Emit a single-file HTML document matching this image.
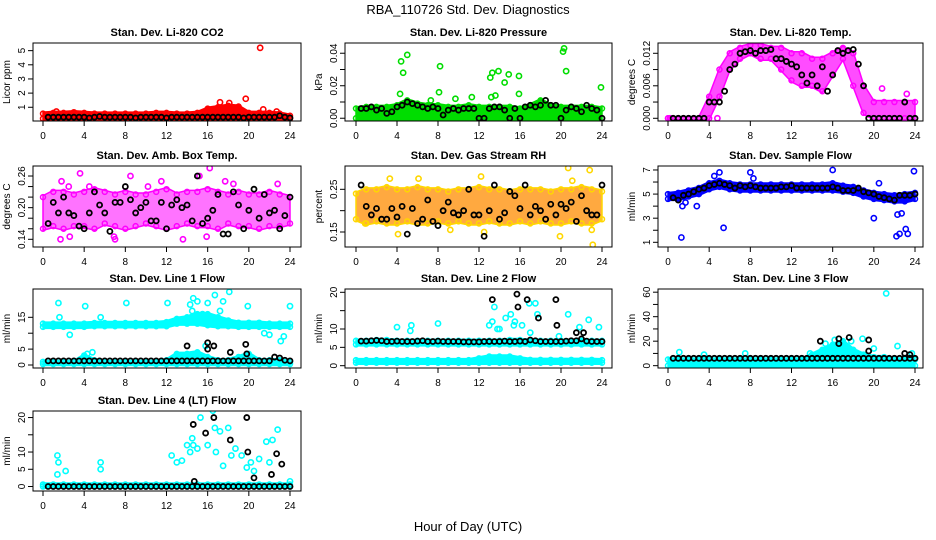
<!DOCTYPE html>
<html><head><meta charset="utf-8"><style>
html,body{margin:0;padding:0;background:#fff}
svg{display:block;font-family:"Liberation Sans",sans-serif}
</style></head><body>
<svg id="chart" width="936" height="540" viewBox="0 0 936 540">
<text x="468" y="14" text-anchor="middle" font-size="13">RBA_110726  Std. Dev. Diagnostics</text>
<text x="468" y="531" text-anchor="middle" font-size="13">Hour of Day (UTC)</text>
</svg>
<script>
// ---- data ----
const xTicks = [0,4,8,12,16,20,24];
const co2Lo = [0.2,0.2,0.2,0.2,0.2,0.2,0.2,0.2,0.2,0.2,0.2,0.2,0.2,0.2,0.2,0.2,0.2,0.2,0.2,0.2,0.2,0.2,0.2,0.2,0.2];
const co2Hi = [0.55,0.6,0.6,0.65,0.6,0.55,0.55,0.55,0.55,0.55,0.55,0.6,0.6,0.55,0.55,0.6,0.9,1.0,1.1,1.05,0.6,0.6,0.6,0.55,0.4];
const co2Black = [0.3,0.3,0.3,0.3,0.3,0.3,0.3,0.3,0.25,0.3,0.35,0.3,0.3,0.3,0.3,0.3,0.3,0.25,0.3,0.3,0.3,0.3,0.3,0.25,0.3,0.3,0.3,0.3,0.3,0.3,0.3,0.3,0.3,0.3,0.3,0.3,0.3,0.3,0.25,0.3,0.3,0.3,0.3,0.3,0.3,0.4,0.3,0.25];
const co2OutT = [21.1,19.7,17.2,18.1,21.4,1.3,22.7];
const co2OutV = [5.2,1.6,1.35,1.3,0.85,0.7,0.7];
const co2Ticks = [1,2,3,4,5];

const presLo = [0,0,0,0,0,0,0,0,0,0,0,0,0,0,0,0,0,0,0,0,0,0,0,0,0];
const presHi = [0.006,0.007,0.007,0.007,0.008,0.011,0.009,0.008,0.008,0.007,0.007,0.008,0.007,0.007,0.007,0.007,0.006,0.008,0.011,0.008,0.007,0.007,0.007,0.007,0.006];
const presBlack = [0.006,0.006,0.007,0.005,0.006,0.003,0.004,0.007,0.008,0.01,0.009,0.008,0.007,0.006,0.007,0.006,0.002,0.005,0.006,0.005,0.006,0.006,0.006,0,0,0.006,0.007,0.007,0.005,0,0.006,0,0.007,0.008,0.007,0.008,0.011,0.008,0.008,0,0.005,0.007,0.006,0.004,0.008,0.006,0.005,0];
const presOutT = [4.4,4.6,5.0,4.3,8.2,8.1,7.3,9.7,11.3,13.1,13.3,13.6,13.9,14.5,14.9,15.9,15.9,13.2,20.2,20.3,20.5,23.9];
const presOutV = [0.035,0.028,0.039,0.015,0.032,0.016,0.011,0.012,0.013,0.025,0.028,0.014,0.029,0.022,0.027,0.026,0.015,0.013,0.041,0.043,0.029,0.019];
const presTicks = [0,0.02,0.04];
const presMinor = [0.01,0.03];

const tempLo = [0,0,0,0,0,0.004,0.009,0.011,0.012,0.011,0.011,0.009,0.007,0.006,0.006,0.005,0.008,0.011,0.006,0.001,0,0,0,0,0];
const tempHi = [0,0,0,0,0.004,0.009,0.012,0.013,0.0135,0.0135,0.013,0.013,0.012,0.012,0.011,0.011,0.012,0.013,0.012,0.006,0.003,0.003,0.003,0.003,0.003];
const tempBlack = [0,0,0,0,0,0,0,0.003,0.003,0.003,0.005,0.009,0.01,0.012,0.0123,0.0125,0.012,0.0125,0.0125,0.0127,0.011,0.011,0.0105,0.01,0.0095,0.008,0.0065,0.008,0.006,0.0095,0.005,0.008,0.0125,0.012,0.0125,0.0127,0.01,0.006,0,0,0,0,0,0,0,0.003,0,0];
const tempOutT = [20.8,23.2,0.2,4.8];
const tempOutV = [0.0055,0.0045,0,0];
const tempTicks = [0,0.006,0.012];
const tempMinor = [0.003,0.009];

const ambLo = [0.16,0.165,0.16,0.165,0.165,0.16,0.17,0.165,0.16,0.165,0.17,0.165,0.16,0.165,0.17,0.165,0.165,0.16,0.17,0.165,0.165,0.16,0.165,0.165,0.17];
const ambHi = [0.22,0.23,0.23,0.225,0.23,0.235,0.23,0.225,0.23,0.225,0.225,0.23,0.235,0.225,0.23,0.23,0.235,0.23,0.225,0.23,0.225,0.225,0.23,0.225,0.22];
const ambBlack = [0.17,0.21,0.19,0.22,0.19,0.185,0.165,0.16,0.19,0.23,0.205,0.19,0.155,0.21,0.21,0.24,0.215,0.19,0.2,0.21,0.175,0.175,0.21,0.16,0.205,0.215,0.2,0.205,0.175,0.26,0.17,0.18,0.195,0.225,0.15,0.15,0.23,0.205,0.16,0.195,0.235,0.18,0.225,0.19,0.195,0.16,0.185,0.22];
const ambOutT = [1.8,2.5,3.6,8.5,11.5,15.2,16.2,17.7,1.7,2.6,6.9,13.6,15.9,7.0,4.5,10.2,18.5,22.8];
const ambOutV = [0.25,0.24,0.265,0.26,0.25,0.26,0.275,0.25,0.14,0.145,0.145,0.14,0.145,0.14,0.24,0.24,0.245,0.245];
const ambTicks = [0.14,0.20,0.26];
const ambMinor = [0.16,0.18,0.22,0.24];

const rhLo = [0.18,0.17,0.175,0.17,0.17,0.175,0.17,0.17,0.175,0.17,0.175,0.17,0.17,0.175,0.17,0.17,0.175,0.17,0.175,0.17,0.17,0.175,0.17,0.17,0.18];
const rhHi = [0.24,0.25,0.25,0.255,0.25,0.25,0.255,0.25,0.25,0.245,0.25,0.25,0.255,0.25,0.25,0.245,0.25,0.25,0.25,0.245,0.25,0.25,0.255,0.25,0.245];
const rhBlack = [0.26,0.21,0.19,0.205,0.18,0.18,0.205,0.185,0.21,0.145,0.205,0.17,0.18,0.225,0.175,0.165,0.2,0.22,0.195,0.19,0.2,0.25,0.19,0.19,0.14,0.2,0.26,0.18,0.195,0.245,0.235,0.205,0.26,0.19,0.21,0.2,0.18,0.215,0.19,0.215,0.205,0.22,0.175,0.235,0.2,0.19,0.19,0.26];
const rhOutT = [0.9,3.3,4.1,6.1,9.2,12.2,19.9,20.7,21.1,22.8,23.1,12.5,23.0];
const rhOutV = [0.17,0.275,0.145,0.275,0.155,0.28,0.14,0.3,0.27,0.295,0.12,0.15,0.155];
const rhTicks = [0.15,0.25];
const rhMinor = [0.20];

const sfLo = [4.6,4.6,4.8,5.0,5.4,5.6,5.4,5.3,5.3,5.3,5.3,5.3,5.3,5.3,5.3,5.3,5.3,5.2,5.1,4.8,4.6,4.5,4.4,4.4,4.6];
const sfHi = [5.0,5.1,5.3,5.5,5.9,6.1,5.9,5.8,5.8,5.8,5.8,5.8,5.8,5.8,5.8,5.8,5.9,5.7,5.6,5.3,5.1,5.0,4.9,5.0,5.1];
const sfBlack = [4.7,4.5,4.9,5.0,5.2,5.4,5.5,5.7,5.8,5.9,5.8,5.7,5.5,5.7,5.6,5.7,5.6,5.5,5.5,5.5,5.5,5.6,5.6,5.7,5.5,5.5,5.5,5.5,5.5,5.5,5.5,5.6,5.5,5.3,5.3,5.3,5.5,5.2,5.1,5.0,4.8,4.7,4.6,4.5,4.9,4.9,4.9,5.0];
const sfOutT = [1.3,1.4,1.7,2.8,4.5,5.0,5.4,8.0,8.3,16.0,20.0,20.5,22.2,22.3,22.5,22.7,23.1,23.3,23.9];
const sfOutV = [1.4,4.0,4.3,4.0,6.5,6.8,2.2,6.8,6.3,7.0,3.0,5.9,1.5,3.3,1.7,3.4,2.1,1.7,6.9];
const sfTicks = [1,3,5,7];
const sfMinor = [2,4,6];

const l1UpLo = [12,12,12,12,12,12.2,12.2,12.2,12.2,12.2,12.2,12.2,12.2,13,13,13,12.5,12.2,12.2,12,12,12,12,12,12];
const l1UpHi = [13,13,13,13,13,13.2,13.2,13.2,13.2,13.2,13.2,13.2,13.5,14.5,15,16,16,15,14,13.3,13.3,13.3,13,13,13];
const l1LwLo = [0.3,0.3,0.3,0.3,0.3,0.3,0.3,0.3,0.3,0.3,0.3,0.3,0.3,0.3,0.3,0.3,0.3,0.3,0.3,0.3,0.3,0.3,0.3,0.3,0.3];
const l1LwHi = [1.0,1.0,1.0,1.0,3.0,1.5,1.0,1.0,1.0,1.0,1.0,1.0,1.5,3.5,3.5,4,2.5,1.5,1.5,2.5,3.5,1.5,1.5,1.5,1.0];
const l1Black = [1.3,1.3,1.3,1.3,1.3,1.3,1.3,1.3,1.3,1.3,1.3,1.3,1.3,1.3,1.3,1.3,1.3,1.3,1.3,1.3,1.3,1.3,1.3,1.3,1.3,1.3,1.3,1.3,1.3,1.3,1.3,1.3,1.3,1.3,1.3,1.3,1.3,1.3,1.3,1.3,1.3,1.3,1.3,1.3,2.5,2.2,1.5,1.3];
const l1BkT = [14.0,16.0,16.0,16.6,18.2,19.7,19.8];
const l1BkV = [6,7,5,6,4,6.5,3.5];
const l1OutT = [1.5,1.6,2.6,4.1,5.6,8.1,12.1,14.3,14.6,15.0,16.0,16.7,17.5,18.1,19.9,24.0,21.5,22.0,23.1,23.4,4.3,4.8,15.8,14.5,15.5,17.2];
const l1OutV = [19.5,15,9.5,18.5,15,19.5,19.5,19,21,20,19.5,22,20,23,18.5,18.5,10,9.5,7.5,9,3.5,4,6,17,16,17];
const l1Ticks = [0,5,15];
const l1Minor = [10];

const l2UpLo = [5.8,5.8,5.8,5.8,5.8,5.8,5.8,5.8,5.8,5.8,5.8,5.8,5.8,5.8,5.8,5.8,5.8,5.8,5.8,5.8,5.8,5.8,5.8,5.8,5.8];
const l2UpHi = [6.8,6.8,7.0,7.0,6.8,6.8,6.8,6.8,6.8,6.8,6.8,6.8,6.8,6.8,6.8,7.0,7.0,6.8,6.8,6.8,6.8,6.8,6.8,6.8,6.8];
const l2LwLo = [0.8,0.8,0.8,0.8,0.8,0.8,0.8,0.8,0.8,0.8,0.8,0.8,0.8,0.8,0.8,0.8,0.8,0.8,0.8,0.8,0.8,0.8,0.8,0.8,0.8];
const l2LwHi = [1.5,1.5,1.5,1.5,1.5,1.5,1.5,1.5,1.5,1.5,1.5,1.5,2.0,2.5,2.5,2.5,2.0,1.6,1.6,1.6,1.6,1.6,1.6,1.6,1.5];
const l2Black = [6.7,6.7,6.8,6.9,6.8,6.6,6.6,6.7,6.6,6.6,6.6,6.7,6.8,6.6,6.6,6.7,6.6,6.6,6.6,6.6,6.5,6.5,6.5,6.5,6.6,6.6,6.6,6.6,6.7,6.6,6.6,6.7,6.6,7,6.8,6.6,6.6,6.6,6.6,6.6,6.7,6.8,6.8,7.3,6.7,6.6,6.6,6.6];
const l2BkT = [13.3,15.7,15.8,16.7,17.8,19.5,19.6,21.5,22.2];
const l2BkV = [18,19.5,16,18,13,18,11,9,9];
const l2OutT = [4.0,5.3,5.4,8.0,13.0,13.3,14.6,13.8,14.0,15.1,15.5,16.2,17.0,17.5,17.7,19.8,20.7,21.8,22.7,23.7,13.5,16.9,15.4];
const l2OutV = [10.5,9.5,11,11.5,11,12,13,10,10,14,12,11,9,17,14,8,14,10.5,12.5,10.5,16,17,11];
const l2Ticks = [0,5,10,20];
const l2Minor = [15];

const l3Lo = [0,0,0,0,0,0,0,0,0,0,0,0,0,0,0,0,0,0,0,0,0,0,0,0,0];
const l3Hi = [5,5,5,5,5,5,5,5,5,5,5,5,5,5,9,13,17,20,13,9,7,7,5,5,5];
const l3Black = [6,6,6,6,6,6,6,6,6,6,6,6,6,6,6,6,6,6,6,6,6,6,6,6,6,6,6,6,6,6,6,6,6,6,6,6,6,6,6,6,6,6,6,6,6,6,6,6];
const l3BkT = [14.8,16.6,16.6,17.6,19.5,19.5,23.0,23.5];
const l3BkV = [20,22,18,23,21,12,10,9];
const l3OutT = [1.1,3.5,7.5,13.8,15.3,16.2,17.0,17.8,18.9,20.0,21.2,22.3,23.7];
const l3OutV = [11,9,10,10,18,21,15,20,22,14,59,16,10];
const l3Ticks = [0,20,40,60];
const l3Minor = [10,30,50];

const l4Lo = [0,0,0,0,0,0,0,0,0,0,0,0,0,0,0,0,0,0,0,0,0,0,0,0,0];
const l4Hi = [0.6,0.6,0.6,0.6,0.6,0.6,0.6,0.6,0.6,0.6,0.6,0.6,0.6,0.6,0.6,0.6,0.6,0.6,0.6,0.6,0.6,0.6,0.6,0.6,0.6];
const l4Black = [0,0,0,0,0,0,0,0,0,0,0,0,0,0,0,0,0,0,0,0,0,0,0,0,0,0,0,0,0,0,0,0,0,0,0,0,0,0,0,0,0,0,0,0,0,0,0,0];
const l4BkT = [14.6,15.8,16.6,18.2,19.8,19.9,20.5,22.2,22.7,23.2,14.7];
const l4BkV = [18,15.5,20,13.5,20,10,2.5,3.5,9.5,6.5,1.5];
const l4OutT = [1.4,1.5,1.4,2.2,5.6,5.6,12.5,13.0,13.5,14.0,14.5,14.3,15.0,15.3,16.0,16.5,16.8,17.2,17.5,18.0,18.3,18.7,19.3,19.8,20.2,20.5,21.0,21.7,22.0,22.3,22.8,24.0,14.6,16.7];
const l4OutV = [3.5,7,9,4.5,5,7,9,7,7.5,12,14,10,11,20,12,22,10,16,6,17,9,11,9,5.5,7,4.5,8,13,7,13.5,16.5,1.5,12,17];
const l4Ticks = [0,5,10,20];
const l4Minor = [15];

// ---- layout ----
const NS = "http://www.w3.org/2000/svg";
const svg = document.getElementById('chart');
function mk(tag, attrs, parent){const e=document.createElementNS(NS,tag);for(const k in attrs)e.setAttribute(k,attrs[k]);(parent||svg).appendChild(e);return e;}

const cols = [{bx0:33,bx1:301,x0:43,x1:290},{bx0:345,bx1:612,x0:356,x1:602},{bx0:658,bx1:923,x0:668,x1:915}];
const rows = [{y0:43,y1:121},{y0:166,y1:247},{y0:289,y1:368},{y0:411,y1:491}];

const panels = [
 {key:'co2',title:'Stan. Dev. Li-820 CO2',ylab:'Licor ppm',c:0,r:0,dom:[0.03,5.54],ticks:co2Ticks,minor:[],color:'#ff0000',bands:[[co2Lo,co2Hi]],black:co2Black,outT:co2OutT,outV:co2OutV},
 {key:'pressure',title:'Stan. Dev. Li-820 Pressure',ylab:'kPa',c:1,r:0,dom:[-0.0017,0.0463],ticks:presTicks,minor:presMinor,color:'#00dd00',bands:[[presLo,presHi]],black:presBlack,outT:presOutT,outV:presOutV,fmt:2},
 {key:'temp',title:'Stan. Dev. Li-820 Temp.',ylab:'degrees C',c:2,r:0,dom:[-0.0005,0.0139],ticks:tempTicks,minor:tempMinor,color:'#ff00ff',bands:[[tempLo,tempHi]],black:tempBlack,outT:tempOutT,outV:tempOutV,fmt:3,bandOp:0.7},
 {key:'ambbox',title:'Stan. Dev. Amb. Box Temp.',ylab:'degrees C',c:0,r:1,dom:[0.1254,0.279],ticks:ambTicks,minor:ambMinor,color:'#ff00ff',bands:[[ambLo,ambHi]],black:ambBlack,outT:ambOutT,outV:ambOutV,fmt:2,bandOp:0.55},
 {key:'rh',title:'Stan. Dev. Gas Stream RH',ylab:'percent',c:1,r:1,dom:[0.1149,0.3046],ticks:rhTicks,minor:rhMinor,color:'#ffd700',fill:'#ff8c00',bands:[[rhLo,rhHi]],black:rhBlack,outT:rhOutT,outV:rhOutV,fmt:2,bandOp:0.75},
 {key:'sampleflow',title:'Stan. Dev. Sample Flow',ylab:'ml/min',c:2,r:1,dom:[0.61,7.33],ticks:sfTicks,minor:sfMinor,color:'#0000ff',bands:[[sfLo,sfHi]],black:sfBlack,outT:sfOutT,outV:sfOutV},
 {key:'line1',title:'Stan. Dev. Line 1 Flow',ylab:'ml/min',c:0,r:2,dom:[-0.94,23.9],ticks:l1Ticks,minor:l1Minor,color:'#00ffff',bands:[[l1UpLo,l1UpHi],[l1LwLo,l1LwHi]],black:l1Black,bkT:l1BkT,bkV:l1BkV,outT:l1OutT,outV:l1OutV},
 {key:'line2',title:'Stan. Dev. Line 2 Flow',ylab:'ml/min',c:1,r:2,dom:[-0.63,20.9],ticks:l2Ticks,minor:l2Minor,color:'#00ffff',bands:[[l2UpLo,l2UpHi],[l2LwLo,l2LwHi]],black:l2Black,bkT:l2BkT,bkV:l2BkV,outT:l2OutT,outV:l2OutV},
 {key:'line3',title:'Stan. Dev. Line 3 Flow',ylab:'ml/min',c:2,r:2,dom:[-1.9,62.6],ticks:l3Ticks,minor:l3Minor,color:'#00ffff',bands:[[l3Lo,l3Hi]],black:l3Black,bkT:l3BkT,bkV:l3BkV,outT:l3OutT,outV:l3OutV},
 {key:'line4',title:'Stan. Dev. Line 4 (LT) Flow',ylab:'ml/min',c:0,r:3,dom:[-1.3,21.9],ticks:l4Ticks,minor:l4Minor,color:'#00ffff',bands:[[l4Lo,l4Hi]],black:l4Black,bkT:l4BkT,bkV:l4BkV,outT:l4OutT,outV:l4OutV}
];

function fmtTick(v,d){ if(d===undefined) return String(v); return v.toFixed(d); }

panels.forEach(p=>{
  const col=cols[p.c], row=rows[p.r];
  const g=mk('g',{});
  
  
  const X=t=>col.x0+(t/24)*(col.x1-col.x0);
  const Y=v=>row.y1-(v-p.dom[0])/(p.dom[1]-p.dom[0])*(row.y1-row.y0);
  const clip='clip-'+p.key;
  const cp=mk('clipPath',{id:clip},g); mk('rect',{x:col.bx0,y:row.y0,width:col.bx1-col.bx0,height:row.y1-row.y0},cp);
  const plot=mk('g',{'clip-path':'url(#'+clip+')'},g);
  
  
  p.bands.forEach((b,bi)=>{
    const lo=b[0], hi=b[1];
    let pts=[];
    for(let i=0;i<hi.length;i++) pts.push(X(i)+','+(Y(hi[i])-1.5));
    for(let i=lo.length-1;i>=0;i--) pts.push(X(i)+','+(Y(lo[i])+1.5));
    const poly=mk('polygon',{points:pts.join(' '),fill:p.fill||p.color,'fill-opacity':p.bandOp||1,stroke:p.color,'stroke-width':1.5},plot);
    
    
    for(let i=0;i<hi.length;i++){
      [hi[i],lo[i]].forEach(v=>{
        const c=mk('circle',{cx:X(i),cy:Y(v),r:2.5,fill:'none',stroke:p.color,'stroke-width':1.5},plot);
        
        
      });
    }
  });
  p.outT.forEach((t,i)=>{
    const c=mk('circle',{cx:X(t),cy:Y(p.outV[i]),r:2.6,fill:'none',stroke:p.color,'stroke-width':1.6},plot);
    
    
  });
  p.black.forEach((v,i)=>{
    const c=mk('circle',{cx:X(0.5+i*0.5),cy:Y(v),r:2.5,fill:'none',stroke:'#000','stroke-width':1.8},plot);
    
    
  });
  if(p.bkT) p.bkT.forEach((t,i)=>{
    const c=mk('circle',{cx:X(t),cy:Y(p.bkV[i]),r:2.5,fill:'none',stroke:'#000','stroke-width':1.8},plot);
    
    
  });
  const box=mk('rect',{x:col.bx0,y:row.y0,width:col.bx1-col.bx0,height:row.y1-row.y0,fill:'none',stroke:'#000','stroke-width':1},g);
  
  
  const xa=mk('g',{},g);
  
  
  mk('line',{x1:X(0),x2:X(24),y1:row.y1,y2:row.y1,stroke:'#000'},xa);
  xTicks.forEach(t=>{
    mk('line',{x1:X(t),x2:X(t),y1:row.y1,y2:row.y1+5,stroke:'#000'},xa);
    const tx=mk('text',{x:X(t),y:row.y1+18,'text-anchor':'middle','font-size':10},xa);
    tx.textContent=t;
    
    
  });
  const ya=mk('g',{},g);
  
  
  const all=p.ticks.concat(p.minor);
  const ymin=Math.min(...all), ymax=Math.max(...all);
  mk('line',{x1:col.bx0,x2:col.bx0,y1:Y(ymin),y2:Y(ymax),stroke:'#000'},ya);
  all.forEach(v=>mk('line',{x1:col.bx0-5,x2:col.bx0,y1:Y(v),y2:Y(v),stroke:'#000'},ya));
  p.ticks.forEach(v=>{
    const tx=mk('text',{x:col.bx0-8,y:Y(v),'text-anchor':'middle','font-size':10,transform:'rotate(-90 '+(col.bx0-8)+' '+Y(v)+')'},ya);
    tx.textContent=fmtTick(v,p.fmt);
    
    
  });
  const cy=(row.y0+row.y1)/2;
  const yl=mk('text',{x:col.bx0-23,y:cy,'text-anchor':'middle','font-size':10,transform:'rotate(-90 '+(col.bx0-23)+' '+cy+')'},g);
  yl.textContent=p.ylab;
  
  
  const tt=mk('text',{x:(col.bx0+col.bx1)/2,y:row.y0-7,'text-anchor':'middle','font-size':11,'font-weight':'bold'},g);
  tt.textContent=p.title;
  
  
});
</script>
</body></html>
